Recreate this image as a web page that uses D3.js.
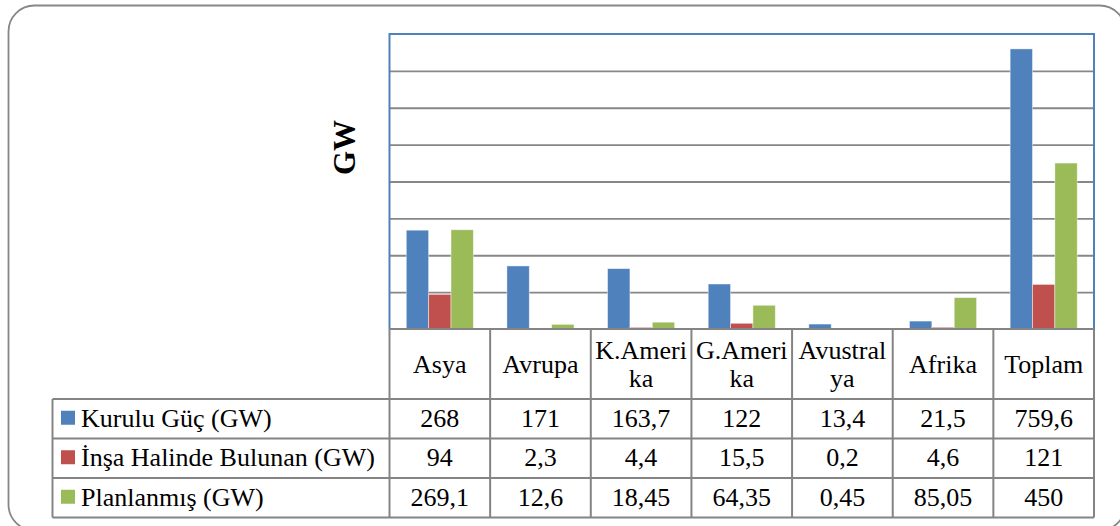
<!DOCTYPE html>
<html>
<head>
<meta charset="utf-8">
<script src="https://cdn.jsdelivr.net/npm/d3@7"></script>
</head>
<body style="margin:0">
<svg id="chart" width="1120" height="526"></svg>
<script>
// Regions (column headers of the data table)
const categories = ["Asya", "Avrupa", "K.Amerika", "G.Amerika", "Avustralya", "Afrika", "Toplam"];

// Series names and values (GW)
const seriesNames = ["Kurulu Güç (GW)", "İnşa Halinde Bulunan (GW)", "Planlanmış (GW)"];
const kuruluGuc   = [268, 171, 163.7, 122, 13.4, 21.5, 759.6];
const insaHalinde = [94, 2.3, 4.4, 15.5, 0.2, 4.6, 121];
const planlanmis  = [269.1, 12.6, 18.45, 64.35, 0.45, 85.05, 450];
const seriesValues = [kuruluGuc, insaHalinde, planlanmis];
const seriesColors = ["#4F81BD", "#C0504D", "#9BBB59"];

// Value axis: 0..800, gridline every 100 (no tick labels shown)
const yTicks = [100, 200, 300, 400, 500, 600, 700];
const yMax = 800;

const FONT = "'Times New Roman'";

const svg = d3.select("#chart");

// Layout
const plot = { left: 389.5, right: 1094, top: 34, bottom: 329 };
const table = { left: 52.5, headerBottom: 399, rowH: 39.5 };
const fmt = v => String(v).replace(".", ",");

// Outer rounded frame
svg.append("rect")
  .attr("x", 8.5).attr("y", 5.5)
  .attr("width", 1117).attr("height", 525)
  .attr("rx", 26).attr("ry", 26)
  .attr("fill", "#fff")
  .attr("stroke", "#878787").attr("stroke-width", 1.8);

const x0 = d3.scaleBand().domain(categories).range([plot.left, plot.right]).padding(0);
const band = x0.bandwidth();
const x1 = d3.scaleBand().domain(d3.range(seriesValues.length)).range([band / 6, band * 5 / 6]).padding(0);
const y = d3.scaleLinear().domain([0, yMax]).range([plot.bottom, plot.top]);

// Gridlines
svg.append("g")
  .attr("transform", `translate(${plot.left},0)`)
  .call(d3.axisLeft(y).tickValues(yTicks).tickSize(-(plot.right - plot.left)).tickFormat(""))
  .call(g => g.select(".domain").remove())
  .call(g => g.selectAll(".tick line").attr("stroke", "#878787").attr("stroke-width", 1.8));

// Bars
const groups = svg.append("g").selectAll("g")
  .data(categories)
  .join("g")
  .attr("transform", d => `translate(${x0(d)},0)`);

groups.selectAll("rect")
  .data((c, ci) => seriesValues.map((vals, si) => ({ si, v: vals[ci] })))
  .join("rect")
  .attr("x", d => x1(d.si))
  .attr("width", x1.bandwidth())
  .attr("y", d => y(d.v))
  .attr("height", d => y(0) - y(d.v))
  .attr("fill", d => seriesColors[d.si])
  .attr("stroke", "rgba(255,255,255,0.55)")
  .attr("stroke-width", 0.8);

// Plot area border (left, top, right) in blue
svg.append("path")
  .attr("d", `M${plot.left},${plot.bottom} V${plot.top} H${plot.right} V${plot.bottom}`)
  .attr("fill", "none")
  .attr("stroke", "#4F81BD").attr("stroke-width", 2);

// Axis title
svg.append("text")
  .attr("x", 10).attr("y", 10)
  .attr("transform", "translate(345,157.5) rotate(-90)")
  .attr("text-anchor", "middle")
  .attr("font-size", 31)
  .attr("font-weight", "bold")
  .style("font-family", FONT)
  .text("GW");

// ---- Data table ----
const tableBottom = table.headerBottom + table.rowH * seriesNames.length;
const lineColor = "#848484";
const tbl = svg.append("g");

tbl.append("line")
  .attr("x1", plot.left).attr("x2", plot.right)
  .attr("y1", plot.bottom).attr("y2", plot.bottom)
  .attr("stroke", lineColor).attr("stroke-width", 2);
d3.range(seriesNames.length + 1).forEach(i => {
  const yy = table.headerBottom + i * table.rowH;
  tbl.append("line")
    .attr("x1", table.left).attr("x2", plot.right)
    .attr("y1", yy).attr("y2", yy)
    .attr("stroke", lineColor).attr("stroke-width", 2);
});
tbl.append("line")
  .attr("x1", table.left).attr("x2", table.left)
  .attr("y1", table.headerBottom).attr("y2", tableBottom)
  .attr("stroke", lineColor).attr("stroke-width", 2);
d3.range(categories.length + 1).forEach(i => {
  const xx = plot.left + i * band;
  tbl.append("line")
    .attr("x1", xx).attr("x2", xx)
    .attr("y1", plot.bottom).attr("y2", tableBottom)
    .attr("stroke", lineColor).attr("stroke-width", 2);
});

// Header labels; names wider than the column break onto a second line
const headerMid = (plot.bottom + table.headerBottom) / 2;
const fontSize = 26;
// Character widths in em (Times metrics) used to find the break point
const em = { "K": .722, "G": .722, "A": .722, ".": .25, "m": .778, "e": .444, "r": .333, "i": .278,
             "k": .5, "a": .444, "v": .5, "u": .5, "s": .389, "t": .278, "l": .278, "y": .5 };

categories.forEach(c => {
  const cx = x0(c) + band / 2;
  const lines = [];
  let cur = "", w = 0;
  for (const ch of c) {
    const cw = (em[ch] || .5) * fontSize;
    if (w + cw > band - 4 && cur.length) { lines.push(cur); cur = ch; w = cw; }
    else { cur += ch; w += cw; }
  }
  lines.push(cur);
  const lh = 28;
  const first = headerMid + 9 - (lines.length - 1) * lh / 2;
  lines.forEach((ln, i) => {
    tbl.append("text")
      .attr("x", cx).attr("y", first + i * lh)
      .attr("text-anchor", "middle")
      .attr("font-size", fontSize)
      .style("font-family", FONT)
      .text(ln);
  });
});

// Series rows: legend key, name, values
seriesNames.forEach((name, si) => {
  const top = table.headerBottom + si * table.rowH;
  const mid = top + table.rowH / 2;
  tbl.append("rect")
    .attr("x", 61).attr("y", mid - 8)
    .attr("width", 14).attr("height", 14)
    .attr("fill", seriesColors[si]);
  tbl.append("text")
    .attr("x", 81).attr("y", mid + 8)
    .attr("font-size", fontSize)
    .style("font-family", FONT)
    .text(name);
  categories.forEach((c, ci) => {
    tbl.append("text")
      .attr("x", x0(c) + band / 2).attr("y", mid + 8)
      .attr("text-anchor", "middle")
      .attr("font-size", fontSize)
      .style("font-family", FONT)
      .text(fmt(seriesValues[si][ci]));
  });
});
</script>
</body>
</html>
